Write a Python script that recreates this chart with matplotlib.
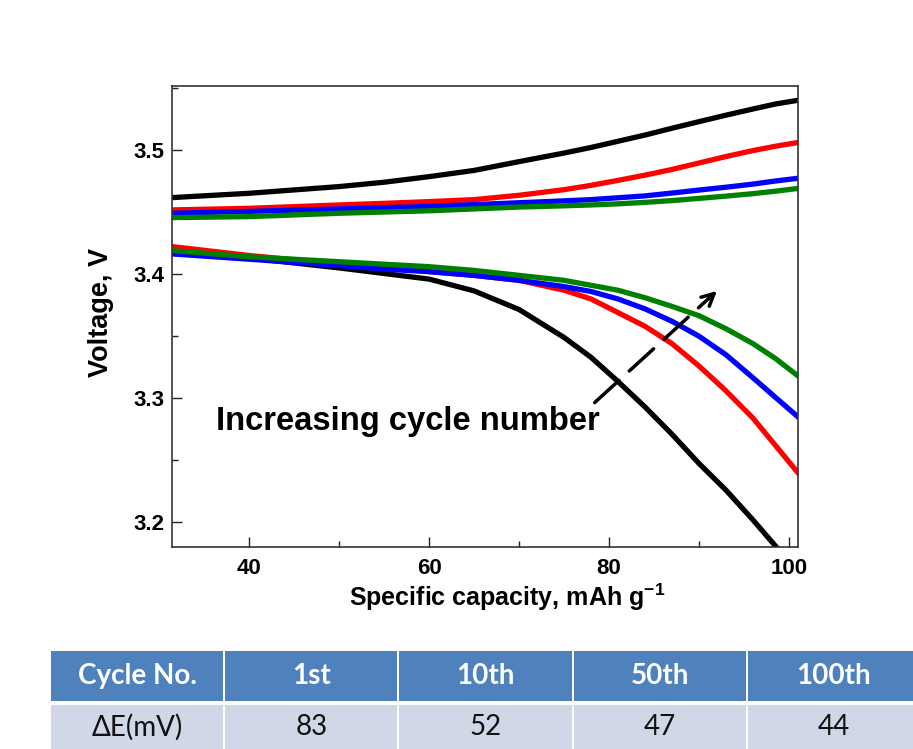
import matplotlib
matplotlib.use("Agg")
import matplotlib.pyplot as plt
from matplotlib.patches import Rectangle
from matplotlib.ticker import MultipleLocator

plt.rcParams["mathtext.fontset"] = "custom"
plt.rcParams["mathtext.rm"] = "Liberation Sans:bold"
plt.rcParams["mathtext.bf"] = "Liberation Sans:bold"

# capacity grid (mAh/g)
capacity = [31.4, 40, 50, 55, 60, 65, 70, 75, 78, 81, 84, 87, 90, 93, 96, 98.5, 101]

# charge curves (upper branch)
chg_1st = [3.4616, 3.4651, 3.4705, 3.474, 3.4785, 3.4835, 3.4906, 3.4975, 3.502, 3.507,
           3.512, 3.5175, 3.5228, 3.528, 3.533, 3.537, 3.540]
chg_10th = [3.4517, 3.453, 3.4557, 3.457, 3.4584, 3.460, 3.4635, 3.468, 3.4715, 3.4755,
            3.4797, 3.4843, 3.4895, 3.4947, 3.4995, 3.503, 3.506]
chg_50th = [3.449, 3.4505, 3.4525, 3.4535, 3.4545, 3.456, 3.4575, 3.459, 3.460, 3.4615,
            3.463, 3.4653, 3.4677, 3.470, 3.4725, 3.475, 3.4772]
chg_100th = [3.4455, 3.4463, 3.449, 3.450, 3.451, 3.4525, 3.454, 3.455, 3.4557, 3.4566,
             3.4578, 3.4592, 3.461, 3.4628, 3.4648, 3.4668, 3.469]

# discharge curves (lower branch)
dis_1st = [3.418, 3.413, 3.405, 3.4005, 3.396, 3.3865, 3.3715, 3.349, 3.333, 3.3135,
           3.293, 3.271, 3.2475, 3.226, 3.202, 3.181, 3.160]
dis_10th = [3.4222, 3.415, 3.408, 3.405, 3.402, 3.399, 3.395, 3.387, 3.380, 3.369,
            3.358, 3.344, 3.326, 3.306, 3.284, 3.262, 3.240]
dis_50th = [3.4163, 3.412, 3.407, 3.404, 3.402, 3.399, 3.395, 3.390, 3.386, 3.380,
            3.372, 3.362, 3.350, 3.335, 3.3165, 3.3007, 3.285]
dis_100th = [3.419, 3.414, 3.410, 3.408, 3.406, 3.403, 3.399, 3.395, 3.391, 3.387,
             3.381, 3.374, 3.3665, 3.356, 3.344, 3.332, 3.318]

colors = ["black", "#ff0000", "#0000ff", "#008000"]

# table below the chart
cycle_labels = ["1st", "10th", "50th", "100th"]
delta_e = [83, 52, 47, 44]

# arrow "Increasing cycle number" (data coords)
arrow_start = (78.4, 3.2965)
arrow_end = (92.0, 3.3865)

W, H = 913, 749
fig = plt.figure(figsize=(W / 100, H / 100), dpi=100)

ax = fig.add_axes([171.7 / W, (H - 547.3) / H, (798 - 171.7) / W, (547.3 - 86) / H])
charge = [chg_1st, chg_10th, chg_50th, chg_100th]
discharge = [dis_1st, dis_10th, dis_50th, dis_100th]
for c, v in zip(colors, charge):
    ax.plot(capacity, v, color=c, lw=3.8, solid_joinstyle="round")
for c, v in zip(colors, discharge):
    ax.plot(capacity, v, color=c, lw=3.8, solid_joinstyle="round")

ax.xaxis.set_major_locator(MultipleLocator(20))
ax.xaxis.set_minor_locator(MultipleLocator(10))
ax.yaxis.set_major_locator(MultipleLocator(0.1))
ax.yaxis.set_minor_locator(MultipleLocator(0.05))
ax.tick_params(which="both", direction="in", top=False, right=False, width=1.0, color="#222222")
ax.tick_params(which="major", length=7)
ax.tick_params(axis="y", which="major", pad=5)
ax.tick_params(axis="x", which="major", pad=8)
ax.tick_params(which="minor", length=4)
for s in ax.spines.values():
    s.set_linewidth(1.2)
    s.set_color("#333333")

bold = {"family": "Liberation Sans", "weight": "bold"}
yt = [3.2, 3.3, 3.4, 3.5]
xt = [40, 60, 80, 100]
ax.set_yticks(yt)
ax.set_yticklabels(["%.1f" % t for t in yt], **bold, fontsize=16)
ax.set_xticks(xt)
ax.set_xticklabels(["%d" % t for t in xt], **bold, fontsize=16)
ax.set_xlim(31.4, 101)
ax.set_ylim(3.18, 3.5515)

ax.set_xlabel("Specific capacity, mAh g$^{\\mathbf{-1}}$", fontsize=18, **bold)
ax.xaxis.set_label_coords(0.535, -0.075)
ax.set_ylabel("Voltage, V", fontsize=19.5, **bold)
ax.yaxis.set_label_coords(-0.092, 0.51)

ax.annotate("", xy=arrow_end, xytext=arrow_start,
            arrowprops=dict(arrowstyle="->", lw=2.5, color="black", linestyle=(0, (9.5, 4)),
                            mutation_scale=22, shrinkA=0, shrinkB=0))
ax.text(57.7, 3.2746, "Increasing cycle number", ha="center", va="baseline",
        fontsize=23.6, **bold)

# table
tax = fig.add_axes([50 / W, 0, 871 / W, (749 - 651) / H])
tax.set_xlim(0, 871)
tax.set_ylim(98, 0)
tax.axis("off")
col_w = 871 / 5
header = ["Cycle No."] + cycle_labels
row = ["\u0394E(mV)"] + [str(v) for v in delta_e]
tfont = ["Lato", "DejaVu Sans"]
for i in range(5):
    tax.add_patch(Rectangle((i * col_w + 1, 0), col_w - 2, 50, facecolor="#4f81bd", edgecolor="none"))
    tax.add_patch(Rectangle((i * col_w + 1, 54), col_w - 2, 50, facecolor="#d0d8e8", edgecolor="none"))
    tax.text(i * col_w + col_w / 2, 25, header[i], ha="center", va="center", color="white",
             fontsize=20, fontweight="bold", family=tfont)
    tax.text(i * col_w + col_w / 2, 76, row[i], ha="center", va="center", color="#111111",
             fontsize=20, family=tfont)

fig.savefig("out.png", dpi=100)
